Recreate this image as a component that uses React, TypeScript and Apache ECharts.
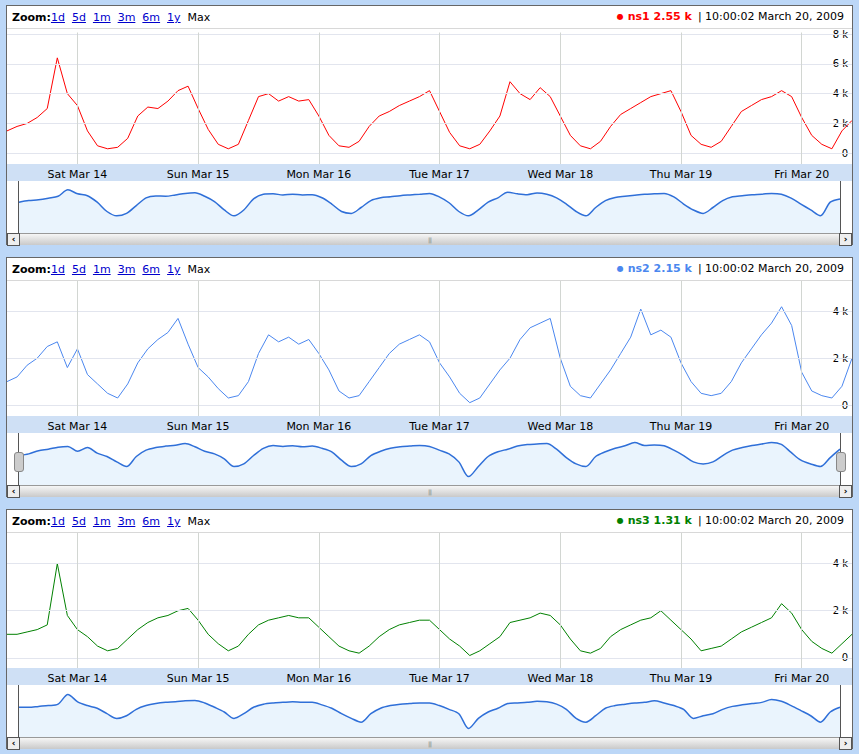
import { useEffect, useRef } from 'react';
import * as echarts from 'echarts';

// samples every 2 hours, from Mar 13 10:00 to Mar 20 10:00 (hours since Mar 13 00:00)
const startHour = 10;
const stepHours = 2;

const ns1Values = [
    1.5, 1.8, 2.0, 2.4, 3.0, 6.4, 4.0, 3.2, 1.5, 0.5, 0.3, 0.4, 1.0, 2.5, 3.1, 3.0, 3.5, 4.2, 4.5,
    3.0, 1.6, 0.6, 0.3, 0.6, 2.2, 3.8, 4.0, 3.5, 3.8, 3.5, 3.6, 2.5, 1.2, 0.5, 0.4, 0.8, 1.8, 2.5,
    2.8, 3.2, 3.5, 3.8, 4.2, 2.8, 1.4, 0.5, 0.3, 0.6, 1.5, 2.5, 4.8, 4.0, 3.6, 4.4, 3.8, 2.5, 1.2,
    0.5, 0.3, 0.8, 1.8, 2.6, 3.0, 3.4, 3.8, 4.0, 4.2, 2.8, 1.2, 0.6, 0.4, 0.8, 1.8, 2.8, 3.2, 3.6,
    3.8, 4.2, 3.8, 2.4, 1.2, 0.6, 0.3, 1.5, 2.2
];
const ns2Values = [
    1.0, 1.2, 1.7, 2.0, 2.5, 2.7, 1.6, 2.4, 1.3, 0.9, 0.5, 0.3, 0.9, 1.8, 2.4, 2.8, 3.1, 3.7, 2.6,
    1.6, 1.2, 0.7, 0.3, 0.4, 1.0, 2.2, 3.0, 2.7, 2.9, 2.6, 2.8, 2.2, 1.5, 0.6, 0.3, 0.4, 1.0, 1.6,
    2.2, 2.6, 2.8, 3.0, 2.7, 1.8, 1.2, 0.5, 0.1, 0.3, 0.9, 1.5, 2.0, 2.8, 3.3, 3.5, 3.7, 2.0, 0.8,
    0.4, 0.3, 0.9, 1.5, 2.2, 2.9, 4.1, 3.0, 3.2, 2.9, 1.8, 1.0, 0.5, 0.4, 0.5, 1.0, 1.8, 2.4, 3.0,
    3.5, 4.2, 3.4, 1.4, 0.6, 0.4, 0.3, 0.8, 2.0
];
const ns3Values = [
    1.0, 1.0, 1.1, 1.2, 1.4, 4.0, 1.8, 1.2, 0.9, 0.5, 0.3, 0.4, 0.8, 1.2, 1.5, 1.7, 1.8, 2.0, 2.1,
    1.6, 1.0, 0.6, 0.3, 0.5, 1.0, 1.4, 1.6, 1.7, 1.8, 1.7, 1.7, 1.3, 0.9, 0.5, 0.3, 0.2, 0.5, 0.9,
    1.2, 1.4, 1.5, 1.6, 1.6, 1.2, 0.8, 0.5, 0.1, 0.3, 0.6, 0.9, 1.5, 1.6, 1.7, 1.9, 1.8, 1.4, 0.8,
    0.3, 0.2, 0.4, 0.9, 1.2, 1.4, 1.6, 1.7, 2.0, 1.6, 1.2, 0.8, 0.3, 0.4, 0.5, 0.8, 1.1, 1.3, 1.5,
    1.7, 2.3, 1.9, 1.2, 0.7, 0.4, 0.2, 0.6, 1.0
];

const dayTicks = [24, 48, 72, 96, 120, 144, 168];
const dayLabels = ['Sat Mar 14', 'Sun Mar 15', 'Mon Mar 16', 'Tue Mar 17', 'Wed Mar 18', 'Thu Mar 19', 'Fri Mar 20'];
const zoomLinks = ['1d', '5d', '1m', '3m', '6m', '1y'];

const font = "Verdana, 'DejaVu Sans', sans-serif";

interface PanelProps {
    name: string;
    latest: string;
    color: string;
    values: number[];
    yMin: number;
    yMax: number;
    yTicks: number[];
    handles?: boolean;
    top: number;
}

function Panel({ name, latest, color, values, yMin, yMax, yTicks, handles, top }: PanelProps) {
    const ref = useRef<HTMLDivElement>(null);

    useEffect(() => {
        if (!ref.current) return;
        const chart = echarts.init(ref.current, null, { renderer: 'svg' });
        const pts = values.map((v, i) => [startHour + i * stepHours, v]);
        const vmax = Math.max(...values);
        chart.setOption({
            animation: false,
            grid: [
                { left: 0, right: 0, top: 0, height: 135 },
                { left: 12, right: 12, top: 153, height: 51 }
            ],
            graphic: [
                { type: 'rect', left: 0, top: 135, shape: { width: 845, height: 17 }, style: { fill: '#cfe0f5' }, z: -10 },
                { type: 'line', shape: { x1: 11.5, y1: 152, x2: 11.5, y2: 204 }, style: { stroke: '#555', lineWidth: 1 } },
                { type: 'line', shape: { x1: 833.5, y1: 152, x2: 833.5, y2: 204 }, style: { stroke: '#555', lineWidth: 1 } }
            ],
            xAxis: [
                {
                    type: 'value', min: 10, max: 178,
                    axisLine: { show: false },
                    axisTick: { show: true, customValues: dayTicks, length: 5, inside: true, lineStyle: { color: '#000' } },
                    axisLabel: {
                        customValues: dayTicks, color: '#000', fontSize: 11, fontFamily: font, margin: 5,
                        formatter: (v: number) => dayLabels[dayTicks.indexOf(v)] ?? ''
                    },
                    splitLine: { show: false }
                },
                { type: 'value', gridIndex: 1, min: 10, max: 178, show: false }
            ],
            yAxis: [
                {
                    type: 'value', min: yMin, max: yMax, position: 'right',
                    axisLine: { show: false }, axisTick: { show: false }, splitLine: { show: false },
                    axisLabel: {
                        inside: true, customValues: yTicks, color: '#000', fontSize: 10, fontFamily: font, margin: 4,
                        formatter: (v: number) => (v === 0 ? '0' : v + ' k')
                    }
                },
                { type: 'log', gridIndex: 1, min: 0.04, max: vmax * 2.5, show: false }
            ],
            series: [
                {
                    type: 'line', data: pts, symbol: 'none',
                    lineStyle: { color, width: 1 }, z: 3,
                    markLine: {
                        silent: true, symbol: 'none', label: { show: false },
                        lineStyle: { color: '#e2e5ee', type: 'solid', width: 1 },
                        data: [
                            ...yTicks.map(v => ({ yAxis: v })),
                            ...dayTicks.map(v => ({ xAxis: v, lineStyle: { color: '#d2d6d2', type: 'solid', width: 1 } }))
                        ]
                    }
                },
                {
                    type: 'line', xAxisIndex: 1, yAxisIndex: 1, data: pts, symbol: 'none', smooth: 0.3,
                    lineStyle: { color: '#2f6fd8', width: 1.5 },
                    areaStyle: { color: '#eaf4fd', opacity: 1 }
                }
            ]
        });
        return () => chart.dispose();
    }, []);

    return (
        <div style={{
            position: 'absolute', left: 6, top, width: 845, height: 238,
            border: '1px solid #666', background: '#fff', fontFamily: font
        }}>
            <div style={{ height: 22, borderBottom: '1px solid #d8d8d8', position: 'relative', fontSize: 11 }}>
                <span style={{ position: 'absolute', left: 5, top: 5 }}>
                    <b>Zoom:</b>
                    {zoomLinks.map(z => (
                        <span key={z} style={{ color: '#00c', textDecoration: 'underline', marginRight: 7 }}>{z}</span>
                    ))}
                    <span>Max</span>
                </span>
                <span style={{ position: 'absolute', right: 8, top: 4 }}>
                    <span style={{ color, fontWeight: 'bold' }}><span style={{ fontSize: 8, verticalAlign: 1 }}>●</span> {name} {latest}</span>
                    <span style={{ marginLeft: 6 }}>| 10:00:02 March 20, 2009</span>
                </span>
            </div>
            <div ref={ref} style={{ width: 845, height: 204 }} />
            {handles && (
                <>
                    <div style={{ position: 'absolute', left: 7, top: 194, width: 8, height: 18, background: '#ccc', border: '1px solid #888', borderRadius: 3 }} />
                    <div style={{ position: 'absolute', left: 829, top: 194, width: 8, height: 18, background: '#ccc', border: '1px solid #888', borderRadius: 3 }} />
                </>
            )}
            <div style={{
                height: 11, borderTop: '1px solid #999', position: 'relative',
                background: 'linear-gradient(#f6f6f6, #c9c9c9)'
            }}>
                <div style={{ position: 'absolute', left: 0, top: -1, width: 11, height: 11, border: '1px solid #555', background: '#eee', fontSize: 9, lineHeight: '11px', textAlign: 'center', fontWeight: 'bold' }}>‹</div>
                <div style={{ position: 'absolute', right: 0, top: -1, width: 11, height: 11, border: '1px solid #555', background: '#eee', fontSize: 9, lineHeight: '11px', textAlign: 'center', fontWeight: 'bold' }}>›</div>
                <div style={{ position: 'absolute', left: 421, top: 2, fontSize: 6, color: '#888', letterSpacing: -1 }}>|||</div>
            </div>
        </div>
    );
}

export default function App() {
    useEffect(() => {
        document.body.style.margin = '0';
    }, []);
    return (
        <div style={{ position: 'relative', width: 859, height: 754, background: '#bcd7f7', overflow: 'hidden' }}>
            <Panel name="ns1" latest="2.55 k" color="#ff0000" values={ns1Values} yMin={-0.72} yMax={8.1} yTicks={[0, 2, 4, 6, 8]} top={5} />
            <Panel name="ns2" latest="2.15 k" color="#4b87ef" values={ns2Values} yMin={-0.47} yMax={5.3} yTicks={[0, 2, 4]} handles top={257} />
            <Panel name="ns3" latest="1.31 k" color="#008000" values={ns3Values} yMin={-0.43} yMax={5.3} yTicks={[0, 2, 4]} top={509} />
        </div>
    );
}
